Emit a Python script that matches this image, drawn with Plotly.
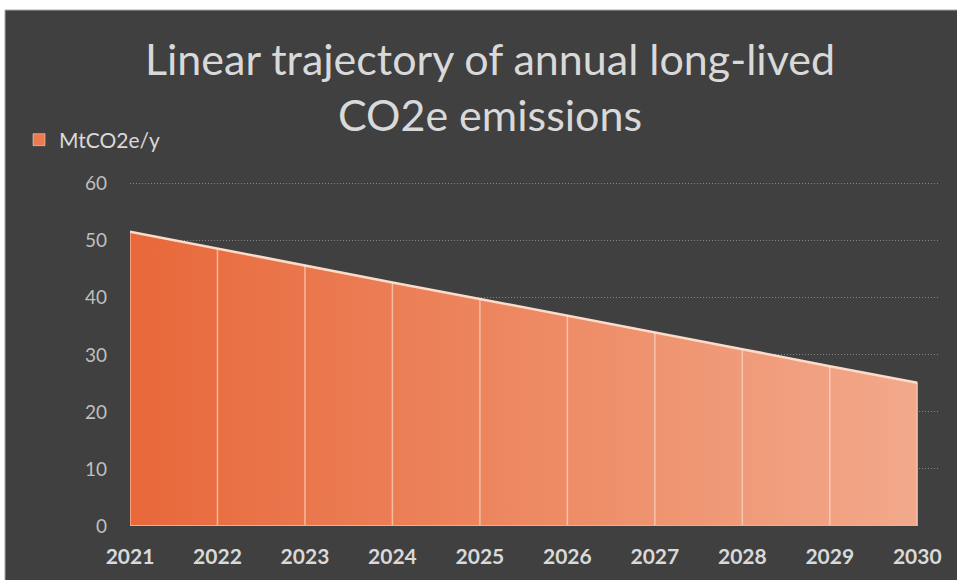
import plotly.graph_objects as go

# Annual long-lived CO2e emissions along a linear path (MtCO2e per year)
years = [2021, 2022, 2023, 2024, 2025, 2026, 2027, 2028, 2029, 2030]
emissions = [51.6, 48.6, 45.7, 42.7, 39.8, 36.9, 33.9, 31.0, 28.0, 25.1]
y_ticks = [0, 10, 20, 30, 40, 50, 60]

series_name = "MtCO2e/y"
title_text = "Linear trajectory of annual long-lived<br>CO2e emissions"

BG = "#404040"
TEXT = "#D9D9D9"
FONT = "Lato, 'Open Sans', sans-serif"

fig = go.Figure()

# gradient-filled area
fig.add_trace(go.Scatter(
    x=years, y=emissions, mode="lines",
    line=dict(color="#FBDCCB", width=2.5),
    fill="tozeroy",
    fillgradient=dict(type="horizontal",
                      colorscale=[[0, "#E8683A"], [1, "#F2A98B"]]),
    showlegend=False, hoverinfo="x+y",
))

# drop lines from each point down to the baseline
drop_x, drop_y = [], []
for x, y in zip(years, emissions):
    drop_x += [x, x, None]
    drop_y += [0, y, None]
fig.add_trace(go.Scatter(
    x=drop_x, y=drop_y, mode="lines",
    line=dict(color="rgba(255,228,214,0.6)", width=1.5),
    showlegend=False, hoverinfo="skip",
))

# category baseline spanning the years
fig.add_trace(go.Scatter(
    x=years, y=[0] * len(years), mode="lines",
    line=dict(color="#BFBFBF", width=2),
    showlegend=False, hoverinfo="skip",
))

# legend entry
fig.add_trace(go.Bar(
    x=[None], y=[None], name=series_name,
    marker=dict(color="#EC7A50"), showlegend=True,
))

fig.update_layout(
    width=957, height=580,
    margin=dict(l=130, r=17, t=182, b=54, autoexpand=False),
    paper_bgcolor="white",
    plot_bgcolor="rgba(0,0,0,0)",
    font=dict(family=FONT, color=TEXT),
    title=dict(
        text=title_text,
        x=490 / 957, xanchor="center", xref="container",
        y=1 - 75 / 580, yanchor="middle", yref="container",
        font=dict(size=43, color=TEXT, family=FONT),
    ),
    legend=dict(
        x=19 / 957, xanchor="left", xref="container",
        y=1 - 140 / 580, yanchor="middle", yref="container",
        font=dict(size=21, color=TEXT, family=FONT),
        bgcolor="rgba(0,0,0,0)",
    ),
    shapes=[dict(
        type="rect", xref="paper", yref="paper",
        x0=(5 - 130) / 810, x1=(962 - 130) / 810,
        y0=(526 - 585) / 344, y1=(526 - 10) / 344,
        fillcolor=BG, line=dict(color="#A6A6A6", width=1),
        layer="below",
    )],
    xaxis=dict(
        range=[2021, 2030.26],
        tickmode="array", tickvals=years, ticktext=[str(y) for y in years],
        showgrid=False, zeroline=False, showline=False,
        ticks="", ticklabelstandoff=16,
        tickfont=dict(size=21, color=TEXT, family=FONT, weight="bold"),
    ),
    yaxis=dict(
        range=[0, 60.3],
        tickmode="array", tickvals=y_ticks,
        showgrid=True, gridcolor="#858585", griddash="1px,2px", gridwidth=1,
        zeroline=False, showline=False, ticks="", ticklabelstandoff=22,
        tickfont=dict(size=19, color="#BFBFBF", family=FONT),
    ),
)

fig.write_html("out.html")
